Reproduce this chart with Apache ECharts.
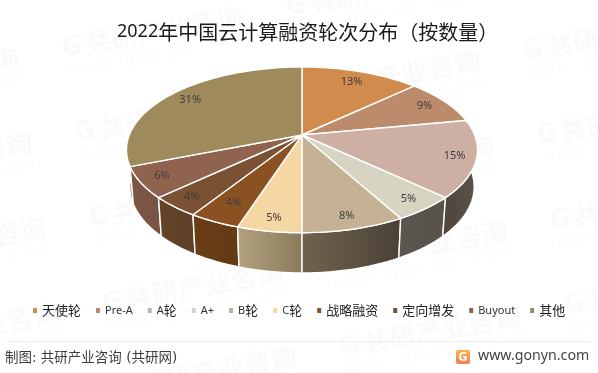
<!DOCTYPE html>
<html>
<head>
<meta charset="utf-8">
<style>
  html, body { margin: 0; padding: 0; background: #fff; }
  #chart { width: 598px; height: 373px; }
</style>
<script src="https://cdn.jsdelivr.net/npm/echarts@6/dist/echarts.min.js"></script>
</head>
<body>
<div id="chart"></div>
<script>
const categories = ['天使轮', 'Pre-A', 'A轮', 'A+', 'B轮', 'C轮', '战略融资', '定向增发', 'Buyout', '其他']
const shares = [13, 9, 15, 5, 8, 5, 4, 4, 6, 31]

const topColors = ['#D18B4D', '#BB8B6B', '#CDAFA3', '#D7D4C1', '#C5B193', '#F5D7A3', '#8A5220', '#7A5233', '#90634E', '#9E8A5B']
const sideLeft = ['#8A5C33', '#7C5C47', '#4E453E', '#5A5650', '#70644F', '#B4A27E', '#6A3D16', '#644529', '#7C5545', '#6B5D3D']
const sideRight = ['#8A5C33', '#7C5C47', '#5C524A', '#57534B', '#4B4036', '#887A5C', '#633A14', '#5C3F26', '#7A5443', '#6B5D3D']
const labelRadius = [0.82, 0.85, 0.88, 0.88, 0.88, 0.88, 0.81, 0.88, 0.88, 0.85]

// 透視參數，從圖上量出來的
const CX = 302, CY = 135
const SCALE_X = 172.7, SCALE_Y = 80.2, TILT = 0.179
const BASE_X = 0.981, BASE_Y = 1.042, BASE_CY = 171.2

const total = shares.reduce((a, b) => a + b, 0)
const starts = shares.map((_, i) => shares.slice(0, i).reduce((a, b) => a + b, 0) / total)

function project(frac, r, onBase) {
  const t = frac * Math.PI * 2
  const u = r * Math.sin(t), v = -r * Math.cos(t)
  const d = 1 - TILT * v
  const x = CX + SCALE_X * u / d
  const y = CY + SCALE_Y * v / d
  return onBase ? [CX + (x - CX) * BASE_X, BASE_CY + BASE_Y * (y - CY)] : [x, y]
}

function arc(from, to, onBase) {
  const pts = []
  const n = Math.max(4, Math.ceil((to - from) * 180))
  for (let i = 0; i <= n; i++) pts.push(project(from + (to - from) * i / n, 1, onBase))
  return pts
}

const topItem = i => (params, api) => {
  const from = starts[i], to = from + api.value(0) / total
  const pos = project((from + to) / 2, labelRadius[i])
  return {
    type: 'group',
    children: [
      {
        type: 'polygon',
        shape: { points: [[CX, CY]].concat(arc(from, to)) },
        style: { fill: topColors[i], stroke: '#fff', lineWidth: 1.4, lineJoin: 'round' }
      },
      {
        type: 'text',
        z2: 10,
        style: {
          text: api.value(0) + '%', x: pos[0], y: pos[1], align: 'center', verticalAlign: 'middle',
          fill: '#404040', font: '11px "Noto Sans"'
        }
      }
    ]
  }
}

const sideItem = i => (params, api) => {
  const from = starts[i], to = from + api.value(0) / total
  return {
    type: 'polygon',
    shape: { points: arc(from, to).concat(arc(from, to, true).reverse()) },
    style: {
      fill: new echarts.graphic.LinearGradient(0, 0, 1, 0, [
        { offset: 0, color: sideLeft[i] },
        { offset: 1, color: sideRight[i] }
      ]),
      stroke: '#fff', lineWidth: 1.4, lineJoin: 'round'
    }
  }
}

const base = i => ({
  type: 'custom',
  name: categories[i],
  coordinateSystem: 'none',
  itemStyle: { color: topColors[i] },
  silent: true,
  animation: false,
  data: [shares[i]]
})

const series = [
  ...categories.map((_, i) => ({ ...base(i), z: 3, renderItem: topItem(i) })),
  // 反過來畫，最大的那塊側面不要蓋到前面
  ...categories.map((_, i) => ({ ...base(i), z: 2, renderItem: sideItem(i) })).reverse()
]

// 背景浮水印
function watermark() {
  const out = []
  const sub = 'www.gonyn.com'.split('')
  for (let i = -2; i <= 3; i++) {
    for (let j = -1; j <= 5; j++) {
      const x = 72 + 224 * i + 13.5 * j, y = 47 - 41 * i + 85 * j
      if (x < -210 || x > 610 || y < -40 || y > 400) continue
      const fill = 'rgba(120,120,120,0.04)'
      const children = [
        { type: 'text', style: { text: 'G', x: 0, y: 0, align: 'center', verticalAlign: 'middle', fill, font: 'bold 27px "Noto Sans"' } },
        { type: 'text', style: { text: '共研产业咨询', x: 13.4, y: 0, verticalAlign: 'middle', fill, font: 'bold 26.7px "Noto Sans CJK SC"' } }
      ]
      sub.forEach((c, k) => {
        children.push({ type: 'text', style: { text: c, x: -2 + k * 14, y: 22, align: 'center', verticalAlign: 'middle', fill, font: '14px "Noto Sans"' } })
      })
      out.push({ type: 'group', x, y, rotation: 10.4 * Math.PI / 180, silent: true, z: 20, children })
    }
  }
  return out
}

const chart = echarts.init(document.getElementById('chart'), null, { renderer: 'canvas' })
chart.setOption({
  animation: false,
  backgroundColor: '#fff',
  title: {
    text: '{d|2022}{c|年中国云计算融资轮次分布（按数量）}',
    left: 112,
    top: 17,
    textStyle: {
      fontWeight: 'normal',
      rich: {
        d: { fontFamily: '"Noto Sans"', fontSize: 18, fontWeight: 'normal', color: '#1a1a1a' },
        c: { fontFamily: '"Noto Sans CJK SC"', fontSize: 20, fontWeight: 'normal', color: '#1a1a1a' }
      }
    }
  },
  legend: {
    data: categories,
    left: 28,
    top: 299,
    itemWidth: 4,
    itemHeight: 5,
    itemGap: 15,
    icon: 'rect',
    // 英文跟中文字級不同，拆開來
    formatter: name => name.replace(/[\x00-\x7f]+/g, s => `{en|${s}}`).replace(/[^\x00-\x7f]+/g, s => `{cn|${s}}`),
    textStyle: {
      rich: {
        en: { fontFamily: '"Noto Sans"', fontSize: 11, color: '#333' },
        cn: { fontFamily: '"Noto Sans CJK SC"', fontSize: 13, color: '#222' }
      }
    }
  },
  graphic: [
    ...watermark(),
    { type: 'rect', shape: { x: 6, y: 341, width: 584, height: 1 }, style: { fill: '#eee' }, silent: true },
    { type: 'text', style: { text: '制图: 共研产业咨询 (共研网)', x: 5, y: 358, verticalAlign: 'middle', fill: '#3c3c3c', font: '13.5px "DejaVu Sans","Noto Sans CJK SC"' } },
    {
      type: 'rect',
      shape: { x: 456, y: 350, width: 14, height: 14, r: 2 },
      style: {
        fill: new echarts.graphic.LinearGradient(0, 0, 0, 1, [
          { offset: 0, color: '#FBB347' },
          { offset: 1, color: '#F47C56' }
        ])
      }
    },
    { type: 'text', z: 5, style: { text: 'G', x: 463, y: 357.5, align: 'center', verticalAlign: 'middle', fill: '#fff', font: 'bold 13px "Noto Sans"' } },
    { type: 'text', style: { text: 'www.gonyn.com', x: 478, y: 356, verticalAlign: 'middle', fill: '#444', font: '14.2px "Noto Sans"' } }
  ],
  series
})
</script>
</body>
</html>
